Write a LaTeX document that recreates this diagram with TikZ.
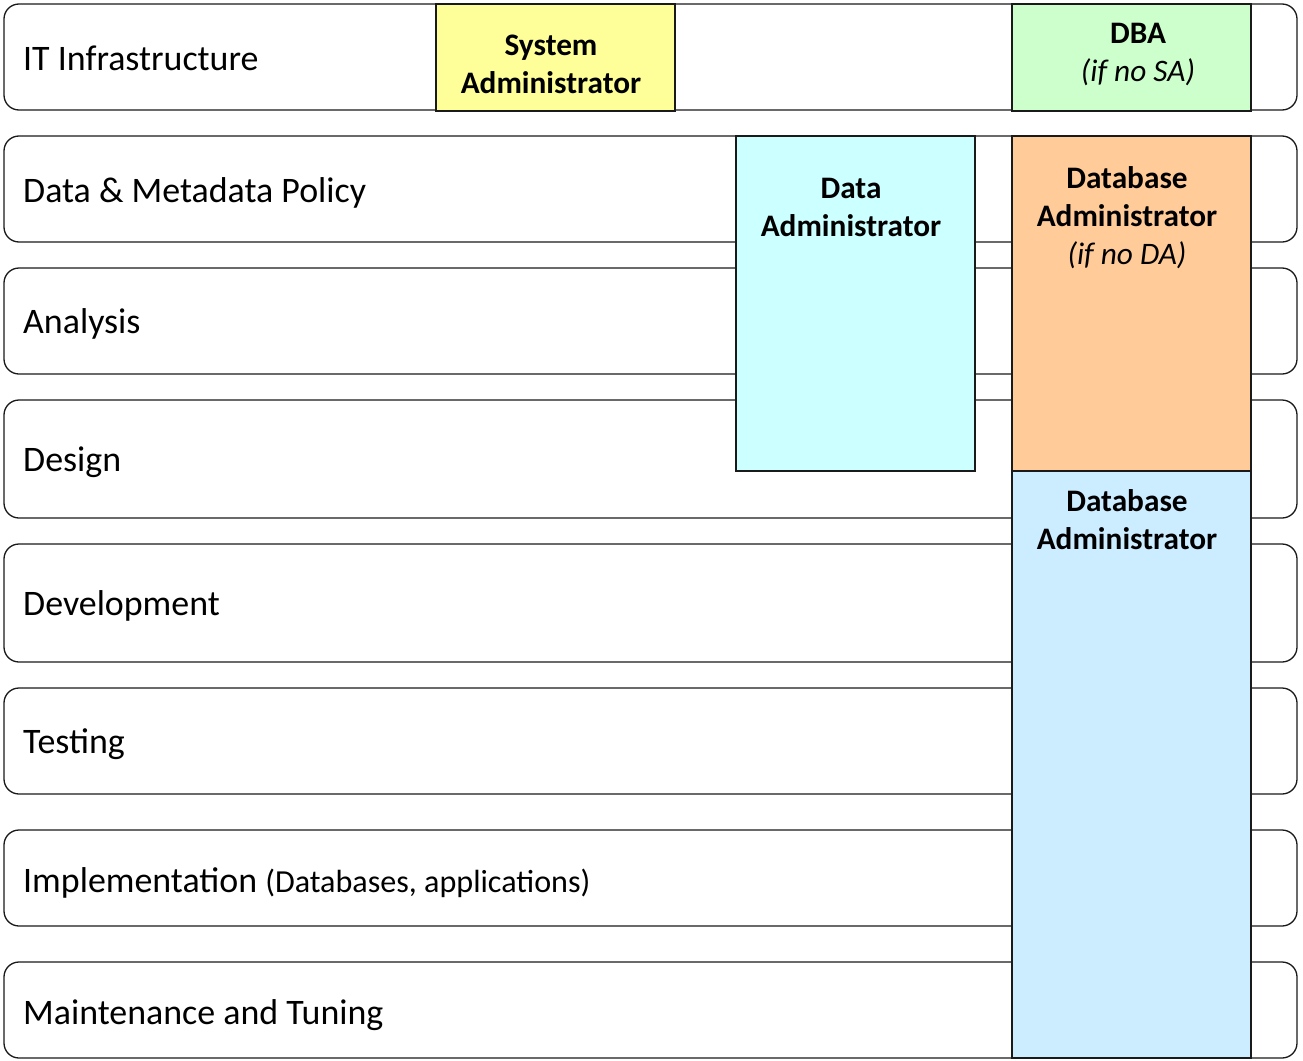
\documentclass[tikz,border=0pt]{standalone}
\usepackage{fontspec}
\setmainfont{Carlito}
\definecolor{sayellow}{HTML}{FFFF99}
\definecolor{dbagreen}{HTML}{CCFFCC}
\definecolor{dacyan}{HTML}{CCFFFF}
\definecolor{dborange}{HTML}{FFCC99}
\definecolor{dbblue}{HTML}{CCECFF}
\definecolor{edge}{HTML}{1A1A1A}
\tikzset{
  rowbox/.style={draw=edge, line width=1.3pt, rounded corners=15pt, fill=white},
  rolebox/.style={draw=edge, line width=1.3pt},
  rowlabel/.style={anchor=base west, inner sep=0pt, font=\fontsize{35.9}{42}\selectfont},
  roletext/.style={anchor=north, align=center, inner sep=0pt, font=\fontsize{31.3}{38}\selectfont\bfseries},
}
\begin{document}
\begin{tikzpicture}[x=1pt,y=-1pt]
\useasboundingbox (0,0) rectangle (1303,1060);
% phase rows
\draw[rowbox] (4,4) rectangle (1297,110);
\draw[rowbox] (4,136) rectangle (1297,242);
\draw[rowbox] (4,268) rectangle (1297,374);
\draw[rowbox] (4,400) rectangle (1297,518);
\draw[rowbox] (4,544) rectangle (1297,662);
\draw[rowbox] (4,688) rectangle (1297,794);
\draw[rowbox] (4,830) rectangle (1297,926);
\draw[rowbox] (4,962) rectangle (1297,1058);
\node[rowlabel] (l1) at (23,70) {IT Infrastructure};
\node[rowlabel] (l2) at (23,202) {Data \& Metadata Policy};
\node[rowlabel] (l3) at (23,333) {Analysis};
\node[rowlabel] (l4) at (23,471) {Design};
\node[rowlabel] (l5) at (23,615) {Development};
\node[rowlabel] (l6) at (23,753) {Testing};
\node[rowlabel] (l7) at (23,892) {Implementation {\fontsize{32.1}{38}\selectfont(Databases, applications)}};
\node[rowlabel] (l8) at (23,1024) {Maintenance and Tuning};
% role boxes
\draw[rolebox, fill=sayellow] (436,4) rectangle (675,111);
\draw[rolebox, fill=dbagreen] (1012,4) rectangle (1251,111);
\draw[rolebox, fill=dacyan] (736,136) rectangle (975,471);
\draw[rolebox, fill=dborange] (1012,136) rectangle (1251,471);
\draw[rolebox, fill=dbblue] (1012,471) rectangle (1251,1058);
\node[roletext] (sa) at (551,35) {System\\Administrator};
\node[roletext] (dba) at (1138,23) {DBA\\\mdseries\itshape (if no SA)};
\node[roletext] (da) at (851,178) {Data\\Administrator};
\node[roletext] (dbda) at (1127,166) {Database\\Administrator\\\mdseries\itshape (if no DA)};
\node[roletext] (db) at (1127,489) {Database\\Administrator};
\end{tikzpicture}
\end{document}
